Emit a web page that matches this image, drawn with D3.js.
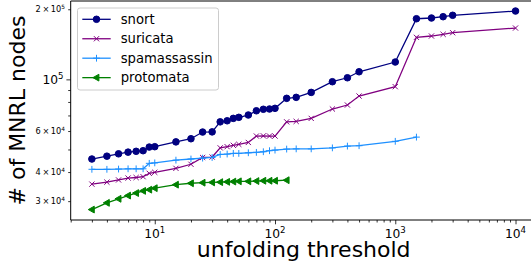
<!DOCTYPE html>
<html>
<head>
<meta charset="utf-8">
<script src="https://cdnjs.cloudflare.com/ajax/libs/d3/7.8.5/d3.min.js"></script>
<style>
body { margin: 0; background: #fff; }
svg { font-family: "DejaVu Sans", sans-serif; }
</style>
</head>
<body>
<svg id="chart" width="531" height="271"></svg>
<script>
// unfolding thresholds (x), shared by all series
var thresholds = [3, 4, 5, 6, 7, 8, 9, 10, 15, 20, 25, 30, 35, 40, 45, 50, 60, 70, 80, 90, 100,
                  125, 150, 200, 300, 400, 500, 1000, 1500, 2000, 2500, 3000, 10000];

// # of MNRL nodes per series
var snort = [45500, 46800, 47900, 48700, 49100, 49400, 51200, 51400, 53900, 55600, 59400, 59500,
             65700, 66400, 68000, 68700, 70300, 73300, 74400, 74600, 75100, 82900, 83700, 87900,
             97700, 101600, 107800, 118700, 182100, 183400, 185800, 188400, 196500];
var suricata = [35500, 36200, 37000, 37700, 37900, 38200, 39500, 39900, 41500, 43200, 46200, 46400,
                50800, 51400, 52100, 52600, 53600, 57100, 57200, 57100, 57100, 65700, 66000, 68000,
                74600, 77600, 84800, 93000, 151500, 153500, 156100, 158600, 166100];
var spamassassin = [41100, 41100, 41200, 41300, 41300, 41300, 43600, 43800, 45000, 45500, 45900, 46200,
                    47600, 47800, 48100, 48100, 48400, 48600, 48900, 49400, 49700, 50200, 50300, 50300,
                    50800, 51700, 51900, 54200, 56500];
var protomata = [27600, 29500, 30700, 31700, 32500, 33200, 33600, 34100, 35300, 35800, 36000, 36100,
                 36200, 36300, 36400, 36500, 36500, 36600, 36700, 36700, 36700, 36900];

var seriesNames = ["snort", "suricata", "spamassassin", "protomata"];
var seriesColors = ["#000080", "#800080", "#1e90ff", "#008000"];
var seriesMarkers = ["circle", "x", "plus", "triLeft"];

// ticks
var xMajor = [10, 100, 1000, 10000];
var yMajor = [1e5];
var yMinorLabeled = [2e5, 6e4, 4e4, 3e4];
var yMinorPlain = [9e4, 8e4, 7e4, 5e4];

var svg = d3.select("#chart");
var pLeft = 70.7, pRight = 536.7, pTop = 1, pBottom = 220;

var x = d3.scaleLog().domain([2, 15000]).range([pLeft, pRight]);
var y = d3.scaleLog().domain([24900, 217000]).range([pBottom, pTop]);

var allY = [snort, suricata, spamassassin, protomata];

// series lines + markers
function markerPath(type) {
    if (type == "circle") return d3.symbol().type(d3.symbolCircle).size(34)();
    if (type == "x") return "M-2.6,-2.6L2.6,2.6M-2.6,2.6L2.6,-2.6";
    if (type == "plus") return "M-3.4,0L3.4,0M0,-3.4L0,3.4";
    return "M-3.6,0L2.4,-3.4L2.4,3.4Z";
}

var line = d3.line().x(d => x(d[0])).y(d => y(d[1]));

allY.forEach(function(vals, i) {
    var pts = vals.map((v, j) => [thresholds[j], v]);
    var g = svg.append("g");
    g.append("path")
        .attr("d", line(pts))
        .attr("fill", "none")
        .attr("stroke", seriesColors[i])
        .attr("stroke-width", 1.3);
    var filled = (seriesMarkers[i] == "circle" || seriesMarkers[i] == "triLeft");
    g.selectAll("path.m").data(pts).enter().append("path")
        .attr("class", "m")
        .attr("d", markerPath(seriesMarkers[i]))
        .attr("transform", d => "translate(" + x(d[0]) + "," + y(d[1]) + ")")
        .attr("fill", filled ? seriesColors[i] : "none")
        .attr("stroke", seriesColors[i])
        .attr("stroke-width", 1);
});

// axes
var xMinor = x.ticks().filter(t => xMajor.indexOf(t) < 0 && t <= 15000);

svg.append("g").attr("transform", "translate(0," + pBottom + ")")
    .call(d3.axisBottom(x).tickValues(xMinor).tickSize(2.5).tickFormat(""))
    .call(g => g.select(".domain").remove());
svg.append("g").attr("transform", "translate(0," + pBottom + ")")
    .call(d3.axisBottom(x).tickValues(xMajor).tickSize(4.3).tickFormat(""))
    .call(g => g.select(".domain").remove());

svg.append("g").attr("transform", "translate(" + pLeft + ",0)")
    .call(d3.axisLeft(y).tickValues(yMinorLabeled.concat(yMinorPlain)).tickSize(2.5).tickFormat(""))
    .call(g => g.select(".domain").remove());
svg.append("g").attr("transform", "translate(" + pLeft + ",0)")
    .call(d3.axisLeft(y).tickValues(yMajor).tickSize(4.3).tickFormat(""))
    .call(g => g.select(".domain").remove());

svg.selectAll(".tick line").attr("stroke", "#000").attr("stroke-width", 0.8);

// spines
svg.append("path")
    .attr("d", "M" + pLeft + "," + pBottom + "V" + pTop + "H" + pRight)
    .attr("fill", "none").attr("stroke", "#000").attr("stroke-width", 1);
svg.append("line")
    .attr("x1", pLeft).attr("x2", pRight).attr("y1", pBottom).attr("y2", pBottom)
    .attr("stroke", "#000").attr("stroke-width", 1);

// tick labels
xMajor.forEach(function(t) {
    var txt = svg.append("text")
        .attr("x", x(t)).attr("y", 237.5)
        .attr("text-anchor", "middle")
        .attr("font-size", 12.3)
        .attr("fill", "#000");
    txt.append("tspan").text("10");
    txt.append("tspan").attr("dy", -5).attr("font-size", 8.6).text(Math.round(Math.log10(t)));
});

yMajor.forEach(function(t) {
    var txt = svg.append("text")
        .attr("x", 63.5).attr("y", y(t) + 4.4)
        .attr("text-anchor", "end")
        .attr("font-size", 12.3)
        .attr("fill", "#000");
    txt.append("tspan").text("10");
    txt.append("tspan").attr("dy", -5).attr("font-size", 8.6).text(Math.round(Math.log10(t)));
});

yMinorLabeled.forEach(function(t) {
    var p = Math.floor(Math.log10(t));
    var m = Math.round(t / Math.pow(10, p));
    var txt = svg.append("text")
        .attr("x", 65).attr("y", y(t) + 3)
        .attr("text-anchor", "end")
        .attr("font-size", 8.2)
        .attr("fill", "#000");
    txt.append("tspan").text(m + "\u2009\u00d7\u200910");
    txt.append("tspan").attr("dy", -3.4).attr("font-size", 5.8).text(p);
});

// axis titles
svg.append("text")
    .attr("x", (pLeft + pRight) / 2).attr("y", 256.5)
    .attr("text-anchor", "middle")
    .attr("font-size", 22)
    .text("unfolding threshold");
svg.append("text")
    .attr("transform", "translate(25," + ((pTop + pBottom) / 2) + ") rotate(-90)")
    .attr("text-anchor", "middle")
    .attr("font-size", 22)
    .text("# of MNRL nodes");

// legend
var lg = svg.append("g");
lg.append("rect")
    .attr("x", 77.5).attr("y", 8).attr("width", 141).attr("height", 82)
    .attr("rx", 2.5)
    .attr("fill", "#fff").attr("fill-opacity", 0.8)
    .attr("stroke", "#cccccc").attr("stroke-width", 1);
seriesNames.forEach(function(name, i) {
    var ry = 19.3 + i * 19.45;
    lg.append("line")
        .attr("x1", 82.3).attr("x2", 110.7).attr("y1", ry).attr("y2", ry)
        .attr("stroke", seriesColors[i]).attr("stroke-width", 1.3);
    var filled = (seriesMarkers[i] == "circle" || seriesMarkers[i] == "triLeft");
    lg.append("path")
        .attr("d", markerPath(seriesMarkers[i]))
        .attr("transform", "translate(96.5," + ry + ")")
        .attr("fill", filled ? seriesColors[i] : "none")
        .attr("stroke", seriesColors[i]).attr("stroke-width", 1);
    lg.append("text")
        .attr("x", 120.7).attr("y", ry + 4.7)
        .attr("font-size", 13.2)
        .attr("fill", "#000")
        .text(name);
});
</script>
</body>
</html>
